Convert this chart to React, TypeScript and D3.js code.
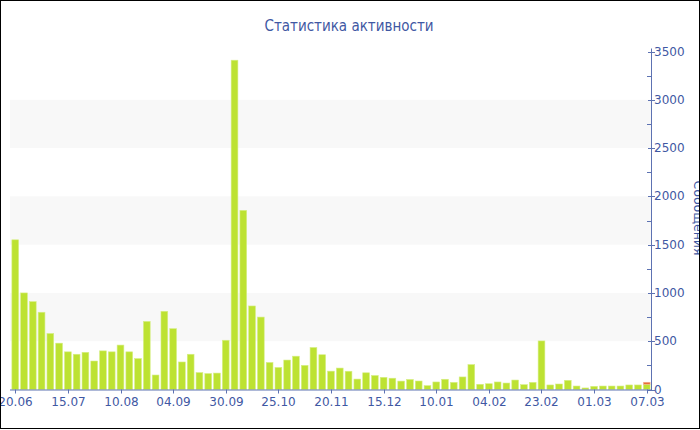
import React from "react";
import * as d3 from "d3";

const title = "Статистика активности";
const yTitle = "Сообщения";
const tickLabels = ["20.06", "15.07", "10.08", "04.09", "30.09", "25.10", "20.11", "15.12", "10.01", "04.02", "23.02", "01.03", "07.03"];
const tickEvery = 6;
const messages = [
  1550, 1000, 910, 800, 580, 480, 390, 365, 385, 295, 400, 390, 460, 390, 320, 705, 150, 810, 630, 285,
  365, 175, 165, 170, 510, 3410, 1855, 865, 750, 280, 228, 305, 345, 250, 435, 360, 190, 222, 189, 108,
  173, 145, 126, 117, 87, 104, 88, 40, 78, 106, 74, 130, 258, 54, 60, 78, 67, 98, 50, 74,
  503, 47, 57, 95, 36, 16, 33, 36, 36, 36, 47, 47, 55,
];
const extra = messages.map((_, i) => (i === messages.length - 1 ? 20 : 0));
const yTicks = [0, 500, 1000, 1500, 2000, 2500, 3000, 3500];
const bands = [[500, 1000], [1500, 2000], [2500, 3000]];

const W = 700, H = 430;
const left = 11, right = 651, top = 51.5, bottom = 389.5;
const blue = "#3f58a3";
const axisBlue = "#5d72b2";

export default function App() {
  const idx = messages.map((_, i) => i);
  const x = d3.scaleBand<number>().domain(idx).range([left, right]).paddingInner(0.23).paddingOuter(0.1);
  const y = d3.scaleLinear().domain([0, 3500]).range([bottom, top]);
  const minor = d3.range(250, 3500, 500);
  const ticksIdx = tickLabels.map((_, i) => i * tickEvery);
  return (
    <svg width={W} height={H} style={{ position: "absolute", left: 0, top: 0, background: "#fff" }} fontFamily="DejaVu Sans">
      <rect x={0} y={0} width={W} height={H} fill="#fff" />
      {bands.map(([a, b], i) => (
        <rect key={i} x={left - 1} y={y(b)} width={right - left + 1} height={y(a) - y(b)} fill="#f8f8f8" />
      ))}
      {idx.map((i) => (
        <g key={i}>
          <rect x={x(i)} y={y(messages[i])} width={x.bandwidth()} height={bottom - y(messages[i])} fill="#bde232" stroke="#d6ee86" strokeWidth={0.6} />
          {extra[i] > 0 && (
            <rect x={x(i)} y={y(messages[i] + extra[i])} width={x.bandwidth()} height={y(messages[i]) - y(messages[i] + extra[i])} fill="#e8642c" stroke="#f3b49a" strokeWidth={0.6} />
          )}
        </g>
      ))}
      <line x1={left - 1} x2={right} y1={bottom + 0.5} y2={bottom + 0.5} stroke={axisBlue} />
      {ticksIdx.map((t, i) => {
        const cx = Math.round((x(t) as number) + x.bandwidth() / 2) + 0.5;
        return (
          <g key={t}>
            <line x1={cx} x2={cx} y1={bottom} y2={bottom + 4} stroke={axisBlue} />
            <text x={cx} y={bottom + 16} textAnchor="middle" fontSize={12} fill={blue}>{tickLabels[i]}</text>
          </g>
        );
      })}
      <line x1={right + 0.5} x2={right + 0.5} y1={top - 3} y2={bottom + 1} stroke={axisBlue} />
      {yTicks.map((v) => (
        <g key={v}>
          <line x1={right - 3} x2={right + 4} y1={Math.round(y(v)) + 0.5} y2={Math.round(y(v)) + 0.5} stroke={axisBlue} />
          <text x={right + 3} y={y(v) + 4} fontSize={12} fill={blue}>{v}</text>
        </g>
      ))}
      {minor.map((v) => (
        <line key={v} x1={right - 4} x2={right} y1={Math.round(y(v)) + 0.5} y2={Math.round(y(v)) + 0.5} stroke={axisBlue} />
      ))}
      <text x={349} y={31} textAnchor="middle" fontSize={15} fill={blue} fontFamily="DejaVu Sans Condensed, DejaVu Sans">{title}</text>
      <text transform={`translate(694, 218) rotate(90)`} textAnchor="middle" fontSize={12.5} fill={blue}>{yTitle}</text>
      <rect x={0.5} y={0.5} width={W - 1} height={428} fill="none" stroke="#000" />
    </svg>
  );
}
